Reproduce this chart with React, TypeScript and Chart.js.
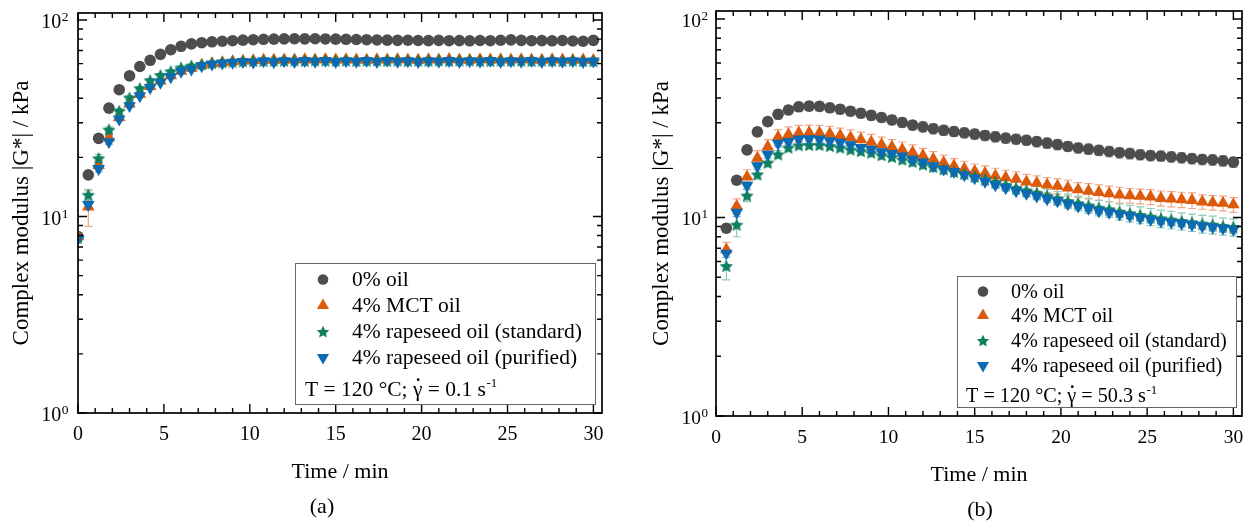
import React, { useEffect, useRef } from "react";
import { Chart, registerables } from "chart.js";

Chart.register(...registerables);

const FONT = '"Liberation Serif", "Times New Roman", serif';

// ---------- categories (time / min) ----------
const timeA = [0, 0.6, 1.2, 1.8, 2.4, 3, 3.6, 4.2, 4.8, 5.4, 6, 6.6, 7.2, 7.8, 8.4, 9, 9.6, 10.2, 10.8, 11.4, 12, 12.6, 13.2, 13.8, 14.4, 15, 15.6, 16.2, 16.8, 17.4, 18, 18.6, 19.2, 19.8, 20.4, 21, 21.6, 22.2, 22.8, 23.4, 24, 24.6, 25.2, 25.8, 26.4, 27, 27.6, 28.2, 28.8, 29.4, 30];
const timeB = [0.6, 1.2, 1.8, 2.4, 3, 3.6, 4.2, 4.8, 5.4, 6, 6.6, 7.2, 7.8, 8.4, 9, 9.6, 10.2, 10.8, 11.4, 12, 12.6, 13.2, 13.8, 14.4, 15, 15.6, 16.2, 16.8, 17.4, 18, 18.6, 19.2, 19.8, 20.4, 21, 21.6, 22.2, 22.8, 23.4, 24, 24.6, 25.2, 25.8, 26.4, 27, 27.6, 28.2, 28.8, 29.4, 30];

// ---------- panel (a): gamma-dot = 0.1 1/s ----------
const oil0A = [7.9, 16.3, 25.0, 35.6, 44.2, 52.0, 58.0, 62.4, 66.9, 70.6, 73.5, 75.6, 76.7, 77.5, 78.0, 78.5, 79.0, 79.4, 79.8, 80.0, 80.2, 80.3, 80.2, 80.3, 80.1, 80.0, 79.8, 79.6, 79.4, 79.2, 79.0, 78.8, 78.9, 78.7, 78.6, 78.8, 78.5, 78.6, 78.4, 78.7, 78.5, 78.9, 79.3, 78.8, 78.5, 78.6, 78.4, 78.7, 78.2, 78.0, 78.8];
const mctA = [7.9, 11.2, 18.2, 25.2, 32.0, 37.5, 42.0, 46.0, 49.0, 52.2, 55.0, 57.0, 58.8, 60.0, 60.8, 61.4, 61.9, 62.2, 62.5, 62.6, 62.8, 62.7, 62.9, 62.8, 63.0, 62.7, 62.9, 62.8, 62.6, 62.9, 62.7, 63.0, 62.8, 62.6, 62.9, 62.7, 63.1, 62.8, 62.6, 63.0, 62.8, 62.9, 62.7, 63.0, 62.8, 62.6, 62.9, 62.7, 62.5, 62.8, 62.4];
const rapeStdA = [7.8, 12.9, 19.8, 27.7, 34.5, 40.3, 45.0, 49.4, 52.5, 54.8, 57.3, 58.6, 59.6, 60.4, 61.0, 61.4, 61.7, 61.9, 62.0, 62.2, 62.1, 62.3, 62.0, 62.4, 62.2, 62.1, 62.3, 62.0, 62.2, 62.4, 62.1, 62.3, 62.0, 62.2, 62.1, 62.3, 62.0, 62.2, 62.4, 62.1, 62.0, 62.3, 62.1, 62.2, 62.0, 62.3, 62.1, 61.9, 62.2, 62.0, 61.8];
const rapePurA = [7.7, 11.5, 17.5, 24.0, 31.3, 36.6, 41.1, 45.3, 48.1, 51.4, 54.7, 56.2, 58.4, 59.6, 60.3, 60.8, 61.4, 61.0, 61.9, 61.2, 62.0, 61.4, 62.1, 61.5, 62.2, 61.3, 62.0, 61.6, 62.1, 61.4, 62.2, 61.5, 62.0, 61.3, 61.9, 61.6, 62.1, 61.4, 62.0, 61.5, 62.2, 61.3, 62.0, 61.6, 62.1, 61.4, 61.9, 61.5, 62.0, 61.3, 61.8];

const oil0ErrA = [0.3, 0.6, 0.8, 1.0, 1.1, 1.2, 1.2, 1.2, 1.1, 1.1, 1.0, 1.0, 1.0, 0.9, 0.9, 0.9, 0.9, 0.9, 0.9, 0.9, 0.9, 0.9, 0.9, 0.9, 0.9, 0.9, 0.9, 0.9, 0.9, 0.9, 0.9, 0.9, 0.9, 0.9, 0.9, 0.9, 0.9, 0.9, 0.9, 0.9, 0.9, 0.9, 0.9, 0.9, 0.9, 0.9, 0.9, 0.9, 0.9, 0.9, 0.9];
const mctErrA = [0.3, 2.3, 1.0, 1.0, 1.1, 1.1, 1.1, 1.1, 1.0, 1.0, 1.0, 1.0, 1.0, 1.0, 1.0, 1.0, 1.0, 1.0, 1.0, 1.0, 1.0, 1.0, 1.0, 1.0, 1.0, 1.0, 1.0, 1.0, 1.0, 1.0, 1.0, 1.0, 1.0, 1.0, 1.0, 1.0, 1.0, 1.0, 1.0, 1.0, 1.0, 1.0, 1.0, 1.0, 1.0, 1.0, 1.0, 1.0, 1.0, 1.0, 1.0];
const rapeStdErrA = [0.3, 0.8, 0.9, 0.9, 0.9, 0.9, 0.9, 0.9, 0.9, 0.9, 0.9, 0.9, 0.9, 0.9, 0.9, 0.9, 0.9, 0.9, 0.9, 0.9, 0.9, 0.9, 0.9, 0.9, 0.9, 0.9, 0.9, 0.9, 0.9, 0.9, 0.9, 0.9, 0.9, 0.9, 0.9, 0.9, 0.9, 0.9, 0.9, 0.9, 0.9, 0.9, 0.9, 0.9, 0.9, 0.9, 0.9, 0.9, 0.9, 0.9, 0.9];
const rapePurErrA = [0.3, 0.6, 0.7, 0.7, 0.7, 0.7, 0.7, 0.7, 0.7, 0.7, 0.7, 0.7, 0.7, 0.7, 0.7, 0.7, 0.7, 0.7, 0.7, 0.7, 0.7, 0.7, 0.7, 0.7, 0.7, 0.7, 0.7, 0.7, 0.7, 0.7, 0.7, 0.7, 0.7, 0.7, 0.7, 0.7, 0.7, 0.7, 0.7, 0.7, 0.7, 0.7, 0.7, 0.7, 0.7, 0.7, 0.7, 0.7, 0.7, 0.7, 0.7];

// ---------- panel (b): gamma-dot = 50.3 1/s ----------
const oil0B = [8.83, 15.4, 21.9, 27.0, 30.4, 33.1, 34.8, 36.1, 36.4, 36.3, 35.7, 35.1, 34.3, 33.5, 32.7, 31.9, 31.0, 30.1, 29.2, 28.6, 28.0, 27.5, 27.1, 26.7, 26.3, 25.9, 25.5, 25.1, 24.8, 24.5, 24.1, 23.7, 23.3, 22.8, 22.4, 22.1, 21.8, 21.5, 21.2, 21.0, 20.7, 20.5, 20.4, 20.2, 20.0, 19.8, 19.6, 19.5, 19.3, 19.0];
const mctB = [6.9, 11.4, 16.0, 19.9, 22.7, 25.4, 26.2, 26.7, 26.8, 26.7, 26.4, 25.9, 25.3, 24.7, 24.0, 23.3, 22.7, 22.0, 21.3, 20.5, 19.7, 18.9, 18.2, 17.6, 17.1, 16.7, 16.2, 15.9, 15.6, 15.1, 14.9, 14.6, 14.4, 14.1, 13.8, 13.6, 13.4, 13.2, 13.0, 12.9, 12.8, 12.7, 12.5, 12.4, 12.3, 12.2, 12.0, 11.9, 11.8, 11.6];
const rapeStdB = [5.7, 9.2, 12.9, 16.5, 18.9, 20.8, 22.5, 23.1, 23.2, 23.2, 22.9, 22.5, 22.0, 21.6, 21.2, 20.6, 20.2, 19.6, 19.1, 18.5, 18.0, 17.5, 17.0, 16.6, 16.1, 15.6, 15.1, 14.6, 14.1, 13.7, 13.3, 12.9, 12.5, 12.1, 11.8, 11.5, 11.2, 11.0, 10.7, 10.5, 10.3, 10.1, 9.9, 9.75, 9.6, 9.45, 9.3, 9.2, 9.05, 8.95];
const rapePurB = [6.6, 10.6, 14.5, 18.2, 20.8, 23.6, 24.1, 24.8, 24.9, 24.8, 24.3, 23.9, 23.2, 22.5, 22.0, 21.4, 21.0, 20.4, 19.6, 19.0, 18.2, 17.5, 17.0, 16.4, 15.8, 15.2, 14.6, 14.1, 13.6, 13.2, 12.8, 12.4, 12.1, 11.7, 11.4, 11.1, 10.8, 10.6, 10.4, 10.2, 9.96, 9.77, 9.58, 9.46, 9.33, 9.2, 9.05, 8.94, 8.82, 8.7];

const oil0ErrB = [0.4, 0.7, 1.0, 1.3, 1.5, 1.7, 1.8, 1.9, 1.9, 1.9, 1.9, 1.9, 1.8, 1.8, 1.8, 1.7, 1.7, 1.7, 1.6, 1.6, 1.6, 1.6, 1.5, 1.5, 1.5, 1.5, 1.5, 1.4, 1.4, 1.4, 1.4, 1.4, 1.4, 1.3, 1.3, 1.3, 1.3, 1.3, 1.3, 1.3, 1.2, 1.2, 1.2, 1.2, 1.2, 1.2, 1.2, 1.2, 1.2, 1.1];
const mctErrB = [0.6, 1.0, 1.4, 1.8, 2.0, 2.3, 2.4, 2.4, 2.4, 2.4, 2.4, 2.3, 2.3, 2.2, 2.2, 2.1, 2.0, 2.0, 1.9, 1.8, 1.8, 1.7, 1.6, 1.6, 1.5, 1.5, 1.5, 1.4, 1.4, 1.4, 1.3, 1.3, 1.3, 1.3, 1.2, 1.2, 1.2, 1.2, 1.2, 1.1, 1.1, 1.1, 1.1, 1.1, 1.1, 1.1, 1.0, 1.0, 1.0, 1.0];
const rapeStdErrB = [0.85, 1.2, 0.9, 0.9, 0.9, 0.9, 0.9, 0.9, 0.9, 0.9, 0.9, 0.9, 0.9, 0.9, 0.9, 0.9, 0.9, 0.9, 0.9, 0.9, 0.9, 0.9, 0.9, 0.9, 0.95, 1.0, 1.0, 1.0, 1.0, 1.0, 1.0, 1.0, 1.0, 1.0, 1.0, 1.0, 1.0, 1.0, 1.0, 1.0, 1.0, 1.0, 1.0, 1.0, 0.95, 0.95, 0.95, 0.95, 0.9, 0.9];
const rapePurErrB = [0.3, 0.5, 0.6, 0.7, 0.8, 0.9, 0.9, 0.9, 0.9, 0.9, 0.9, 0.9, 0.9, 0.8, 0.8, 0.8, 0.8, 0.8, 0.7, 0.7, 0.7, 0.7, 0.6, 0.6, 0.6, 0.6, 0.6, 0.5, 0.5, 0.5, 0.5, 0.5, 0.5, 0.5, 0.4, 0.4, 0.4, 0.4, 0.4, 0.4, 0.4, 0.4, 0.4, 0.4, 0.4, 0.4, 0.4, 0.4, 0.4, 0.4];

// ---------- labels / ticks ----------
const seriesLabels = ["0% oil", "4% MCT oil", "4% rapeseed oil (standard)", "4% rapeseed oil (purified)"];
const xMajorTicks = [0, 5, 10, 15, 20, 25, 30];
const yMajorTicks = [1, 10, 100];
const yMajorExponents = ["0", "1", "2"];
const yTitle = "Complex modulus |G*| / kPa";
const xTitle = "Time / min";

type Marker = "circle" | "triangle" | "star" | "down";

const COLORS = ["#4d4d4d", "#dc5a0a", "#0f7f60", "#0a6bb3"];
const ERR_COLORS = ["#b5b5b5", "#f3a685", "#8ccbb9", "#8fb6dc"];
const MARKERS: Marker[] = ["circle", "triangle", "star", "down"];

const CIRCLE_R = 5.8;
const TRI_R = 7.3;
const STAR_R = 7;

interface SeriesDef {
  label: string;
  values: number[];
  errors: number[];
  color: string;
  errColor: string;
  marker: Marker;
}

interface PanelCfg {
  series: SeriesDef[];
  times: number[];
  xMax: number;
  yMax: number;
  pad: { left: number; right: number; top: number; bottom: number };
  tickFont: number;
  supFont: number;
  titleFont: number;
  yTitleFont: number;
  legendFont: number;
  yTitleX: number;
  panelLabel: string;
  panelLabelX: number;
  yLabelGap: number;
  legendBox: [number, number, number, number];
  legendMarkerX: number;
  legendTextX: number;
  legendRows: number[];
  annotX: number;
  annotBaseline: number;
  shearRate: string;
}

function makeSeries(vals: number[][], errs: number[][]): SeriesDef[] {
  return vals.map((v, i) => ({
    label: seriesLabels[i],
    values: v,
    errors: errs[i],
    color: COLORS[i],
    errColor: ERR_COLORS[i],
    marker: MARKERS[i],
  }));
}

function traceStar(g: CanvasRenderingContext2D, cx: number, cy: number, R: number) {
  g.beginPath();
  for (let i = 0; i < 10; i++) {
    const r = i % 2 === 0 ? R : R * 0.48;
    const a = -Math.PI / 2 + (i * Math.PI) / 5;
    const px = cx + r * Math.cos(a);
    const py = cy + r * Math.sin(a);
    if (i === 0) g.moveTo(px, py);
    else g.lineTo(px, py);
  }
  g.closePath();
}

function starImage(color: string, R: number): HTMLCanvasElement {
  const size = 16;
  const c = document.createElement("canvas");
  c.width = size;
  c.height = size;
  const g = c.getContext("2d")!;
  g.fillStyle = color;
  traceStar(g, size / 2, size / 2 + 0.7, R);
  g.fill();
  return c;
}

function drawMarker(ctx: CanvasRenderingContext2D, m: Marker, x: number, y: number, color: string) {
  ctx.fillStyle = color;
  if (m === "circle") {
    ctx.beginPath();
    ctx.arc(x, y, CIRCLE_R - 0.5, 0, Math.PI * 2);
    ctx.fill();
  } else if (m === "star") {
    traceStar(ctx, x, y + 0.7, STAR_R - 0.5);
    ctx.fill();
  } else {
    const r = TRI_R - 0.3;
    const dir = m === "triangle" ? 1 : -1;
    ctx.beginPath();
    ctx.moveTo(x, y - dir * r);
    ctx.lineTo(x + r * 0.866, y + dir * r * 0.5);
    ctx.lineTo(x - r * 0.866, y + dir * r * 0.5);
    ctx.closePath();
    ctx.fill();
  }
}

function makePlugin(cfg: PanelCfg) {
  return {
    id: "panelDecor" + cfg.panelLabel.replace(/[()]/g, ""),
    beforeDatasetsDraw(chart: any) {
      const { ctx, chartArea } = chart;
      const xs = chart.scales.x;
      const ys = chart.scales.y;
      ctx.save();
      ctx.beginPath();
      ctx.rect(chartArea.left, chartArea.top, chartArea.right - chartArea.left, chartArea.bottom - chartArea.top);
      ctx.clip();
      ctx.lineWidth = 1.2;
      cfg.series.forEach((s) => {
        ctx.strokeStyle = s.errColor;
        cfg.times.forEach((t, j) => {
          const v = s.values[j];
          const e = s.errors[j];
          const x = xs.getPixelForValue(t);
          const y1 = ys.getPixelForValue(v + e);
          const y2 = ys.getPixelForValue(Math.max(v - e, 0.05));
          ctx.beginPath();
          ctx.moveTo(x, y1);
          ctx.lineTo(x, y2);
          ctx.moveTo(x - 4, y1);
          ctx.lineTo(x + 4, y1);
          ctx.moveTo(x - 4, y2);
          ctx.lineTo(x + 4, y2);
          ctx.stroke();
        });
      });
      ctx.restore();
    },
    afterDatasetsDraw(chart: any) {
      const { ctx, chartArea } = chart;
      const xs = chart.scales.x;
      const ys = chart.scales.y;
      const L = chartArea.left;
      const R = chartArea.right;
      const T = chartArea.top;
      const B = chartArea.bottom;
      ctx.save();
      // frame
      ctx.strokeStyle = "#000";
      ctx.lineWidth = 1.7;
      ctx.strokeRect(L, T, R - L, B - T);
      // x ticks
      ctx.lineWidth = 1.4;
      ctx.beginPath();
      for (let v = 0; v <= cfg.xMax; v += 1) {
        const x = xs.getPixelForValue(v);
        const len = v % 5 === 0 ? 9 : 5;
        ctx.moveTo(x, B);
        ctx.lineTo(x, B - len);
        ctx.moveTo(x, T);
        ctx.lineTo(x, T + len);
      }
      // y ticks
      for (let d = 1; d <= 100; d *= 10) {
        for (let m = 1; m <= 9; m++) {
          const v = d * m;
          if (v > cfg.yMax) break;
          const y = ys.getPixelForValue(v);
          const len = m === 1 ? 9 : 5;
          ctx.moveTo(L, y);
          ctx.lineTo(L + len, y);
          ctx.moveTo(R, y);
          ctx.lineTo(R - len, y);
        }
      }
      ctx.stroke();

      // x tick labels
      ctx.fillStyle = "#000";
      ctx.font = `${cfg.tickFont}px ${FONT}`;
      ctx.textAlign = "center";
      ctx.textBaseline = "alphabetic";
      xMajorTicks.forEach((v) => {
        ctx.fillText(String(v), xs.getPixelForValue(v), B + 27);
      });

      // y tick labels: 10^n
      yMajorTicks.forEach((v, i) => {
        const y = ys.getPixelForValue(v);
        ctx.font = `${cfg.supFont}px ${FONT}`;
        const sw = ctx.measureText(yMajorExponents[i]).width;
        const right = L - cfg.yLabelGap;
        ctx.textAlign = "right";
        ctx.fillText(yMajorExponents[i], right, y + 1);
        ctx.font = `${cfg.tickFont}px ${FONT}`;
        ctx.fillText("10", right - sw - 0.5, y + 8);
      });

      // titles
      ctx.font = `${cfg.titleFont}px ${FONT}`;
      ctx.textAlign = "center";
      ctx.fillText(xTitle, (L + R) / 2, B + 65);
      ctx.fillText(cfg.panelLabel, cfg.panelLabelX, B + 100);
      ctx.save();
      ctx.font = `${cfg.yTitleFont}px ${FONT}`;
      ctx.translate(cfg.yTitleX, (T + B) / 2);
      ctx.rotate(-Math.PI / 2);
      ctx.textBaseline = "middle";
      ctx.fillText(yTitle, 0, 0);
      ctx.restore();

      // legend box
      const [bx, by, bw, bh] = cfg.legendBox;
      ctx.fillStyle = "#fff";
      ctx.fillRect(bx, by, bw, bh);
      ctx.strokeStyle = "#666";
      ctx.lineWidth = 1;
      ctx.strokeRect(bx + 0.5, by + 0.5, bw, bh);
      ctx.font = `${cfg.legendFont}px ${FONT}`;
      ctx.textAlign = "left";
      cfg.series.forEach((s, i) => {
        const base = cfg.legendRows[i];
        drawMarker(ctx, s.marker, cfg.legendMarkerX, base - 6.5, s.color);
        ctx.fillStyle = "#000";
        ctx.fillText(s.label, cfg.legendTextX, base);
      });
      // annotation: T = 120 °C; γ̇ = x s^-1
      ctx.fillStyle = "#000";
      let ax = cfg.annotX;
      const ab = cfg.annotBaseline;
      const p1 = "T = 120 °C; ";
      ctx.fillText(p1, ax, ab);
      ax += ctx.measureText(p1).width;
      const gw = ctx.measureText("γ").width;
      ctx.fillText("γ", ax, ab);
      ctx.beginPath();
      ctx.arc(ax + gw / 2 + 0.5, ab - cfg.legendFont * 0.76, 1.4, 0, Math.PI * 2);
      ctx.fill();
      ax += gw;
      const p2 = " = " + cfg.shearRate + " s";
      ctx.fillText(p2, ax, ab);
      ax += ctx.measureText(p2).width;
      ctx.font = `${Math.round(cfg.legendFont * 0.62)}px ${FONT}`;
      ctx.fillText("-1", ax + 0.5, ab - cfg.legendFont * 0.42);
      ctx.restore();
    },
  };
}

const panelA: PanelCfg = {
  series: makeSeries([oil0A, mctA, rapeStdA, rapePurA], [oil0ErrA, mctErrA, rapeStdErrA, rapePurErrA]),
  times: timeA,
  xMax: 30.5,
  yMax: 108.6,
  pad: { left: 78, right: 23, top: 13, bottom: 108 },
  tickFont: 20,
  supFont: 13.5,
  titleFont: 22,
  yTitleFont: 23,
  legendFont: 21.5,
  yTitleX: 22,
  panelLabel: "(a)",
  panelLabelX: 322,
  yLabelGap: 9.5,
  legendBox: [295, 263, 300, 141],
  legendMarkerX: 323,
  legendTextX: 352,
  legendRows: [286, 312, 338, 364],
  annotX: 305,
  annotBaseline: 396,
  shearRate: "0.1",
};

const panelB: PanelCfg = {
  series: makeSeries([oil0B, mctB, rapeStdB, rapePurB], [oil0ErrB, mctErrB, rapeStdErrB, rapePurErrB]),
  times: timeB,
  xMax: 30.5,
  yMax: 109.7,
  pad: { left: 91, right: 8, top: 11, bottom: 105 },
  tickFont: 19.5,
  supFont: 13,
  titleFont: 22,
  yTitleFont: 23,
  legendFont: 20.2,
  yTitleX: 37,
  panelLabel: "(b)",
  panelLabelX: 355,
  yLabelGap: 8,
  legendBox: [332, 276, 279, 131],
  legendMarkerX: 358,
  legendTextX: 386,
  legendRows: [298, 322, 347, 372],
  annotX: 341,
  annotBaseline: 402,
  shearRate: "50.3",
};

function Panel({ cfg, left }: { cfg: PanelCfg; left: number }) {
  const ref = useRef<HTMLCanvasElement | null>(null);
  useEffect(() => {
    if (!ref.current) return;
    const n = cfg.series.length;
    const datasets = cfg.series.map((s, i) => ({
      label: s.label,
      data: cfg.times.map((t, j) => ({ x: t, y: s.values[j] })),
      pointStyle: s.marker === "star" ? starImage(s.color, STAR_R) : s.marker === "down" ? "triangle" : s.marker,
      pointRotation: s.marker === "down" ? 180 : 0,
      pointRadius: s.marker === "circle" ? CIRCLE_R : TRI_R,
      pointHoverRadius: s.marker === "circle" ? CIRCLE_R : TRI_R,
      pointBackgroundColor: s.color,
      pointBorderColor: s.color,
      pointBorderWidth: 0,
      backgroundColor: s.color,
      borderColor: s.color,
      showLine: false,
      order: n - i,
      clip: 0,
    }));
    const chart = new Chart(ref.current, {
      type: "scatter",
      data: { datasets: datasets as any },
      options: {
        animation: false,
        responsive: false,
        events: [],
        layout: { padding: cfg.pad },
        plugins: { legend: { display: false }, tooltip: { enabled: false } },
        scales: {
          x: { type: "linear", min: 0, max: cfg.xMax, display: false },
          y: { type: "logarithmic", min: 1, max: cfg.yMax, display: false },
        },
      },
      plugins: [makePlugin(cfg) as any],
    });
    return () => chart.destroy();
  }, [cfg]);
  return (
    <canvas
      ref={ref}
      width={625}
      height={521}
      style={{ position: "absolute", left, top: 0, width: 625, height: 521 }}
    />
  );
}

export default function App() {
  return (
    <div style={{ position: "absolute", left: 0, top: 0, width: 1250, height: 521, background: "#fff", overflow: "hidden" }}>
      <Panel cfg={panelA} left={0} />
      <Panel cfg={panelB} left={625} />
    </div>
  );
}
